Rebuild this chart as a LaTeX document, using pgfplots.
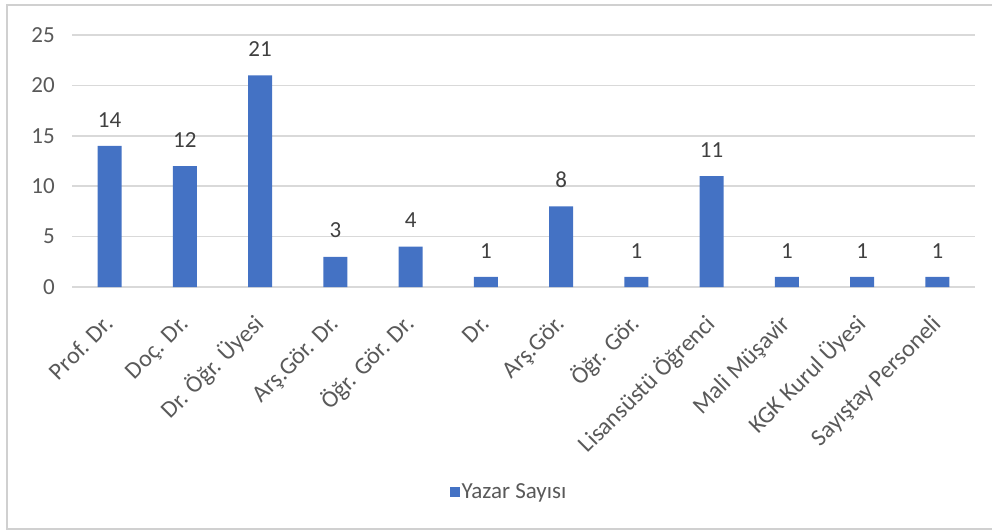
\documentclass[border=0pt]{standalone}
\usepackage{fontspec}
\setmainfont{Carlito}
\usepackage{pgfplots}
\pgfplotsset{compat=1.18}
\definecolor{barBlue}{HTML}{4472C4}
\definecolor{gridGray}{HTML}{D9D9D9}
\definecolor{labelGray}{HTML}{595959}
\definecolor{valueGray}{HTML}{404040}
\definecolor{frameGray}{HTML}{D0D0D0}

\begin{document}
\begin{tikzpicture}
  \useasboundingbox (0pt,0pt) rectangle (992pt,531pt);
  \draw[frameGray, line width=1.5pt] (1000pt,526pt) -- (7pt,526pt) -- (7pt,2pt) -- (1000pt,2pt);

  \begin{axis}[
    at={(72pt,244pt)}, anchor=south west,
    scale only axis,
    width=903pt, height=252pt,
    ybar, bar width=24pt,
    xmin=-0.5, xmax=11.5,
    ymin=0, ymax=25,
    ytick={0,5,10,15,20,25},
    xtick={0,...,11},
    xticklabels={Prof. Dr.,Doç. Dr.,Dr. Öğr. Üyesi,Arş.Gör. Dr.,Öğr. Gör. Dr.,Dr.,Arş.Gör.,Öğr. Gör.,Lisansüstü Öğrenci,Mali Müşavir,KGK Kurul Üyesi,Sayıştay Personeli},
    axis line style={draw=none},
    major tick style={draw=none},
    ymajorgrids,
    major grid style={draw=gridGray, line width=1.5pt},
    /pgf/number format/assume math mode=true,
    tick label style={font=\fontsize{23}{27}\selectfont, text=labelGray},
    yticklabel style={inner sep=0pt, xshift=-17pt},
    xticklabel style={font=\fontsize{24}{28}\selectfont, xshift=5pt, yshift=-34pt,
      rotate=45, anchor=base east, inner sep=0pt},
    nodes near coords,
    every node near coord/.append style={font=\fontsize{23}{27}\selectfont, text=valueGray,
      inner sep=0pt, yshift=18.5pt},
    legend style={at={(0.484,-0.8135)}, anchor=center, draw=none, fill=none,
      font=\fontsize{23}{27}\selectfont, text=labelGray},
    legend image code/.code={\fill[barBlue] (-2pt,-5pt) rectangle (8pt,5pt);},
  ]
    \addplot[fill=barBlue, draw=none] coordinates {
      (0,14) (1,12) (2,21) (3,3) (4,4) (5,1) (6,8) (7,1) (8,11) (9,1) (10,1) (11,1)
    };
    \addlegendentry{Yazar Sayısı}
  \end{axis}
\end{tikzpicture}
\end{document}
